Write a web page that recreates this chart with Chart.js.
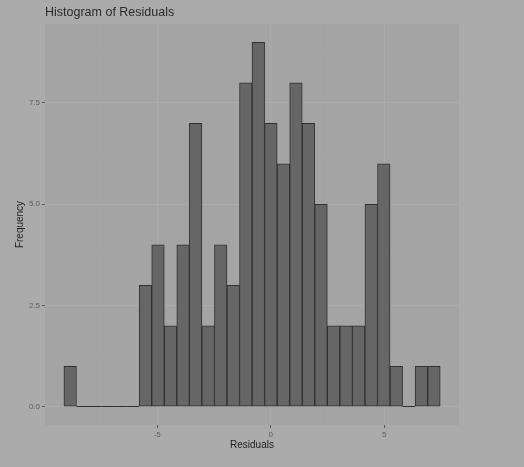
<!DOCTYPE html>
<html>
<head>
<meta charset="utf-8">
<script src="https://cdn.jsdelivr.net/npm/chart.js@4"></script>
<style>
  body { margin: 0; background: #ababab; }
  canvas { display: block; }
</style>
</head>
<body>
<canvas id="chart" width="524" height="467"></canvas>
<script>
// bin centres of the 30 histogram bins (Residuals)
const binCenters = [
  -8.831, -8.278, -7.726, -7.174, -6.621, -6.069, -5.517, -4.964, -4.412, -3.860,
  -3.307, -2.755, -2.203, -1.650, -1.098, -0.546, 0.007, 0.559, 1.111, 1.664,
  2.216, 2.768, 3.321, 3.873, 4.425, 4.978, 5.530, 6.082, 6.635, 7.187
];
// frequency per bin
const counts = [
  1, 0, 0, 0, 0, 0, 3, 4, 2, 4,
  7, 2, 4, 3, 8, 9, 7, 6, 8, 7,
  5, 2, 2, 2, 5, 6, 1, 0, 1, 1
];
const xRange = [-9.94, 8.29];
const yRange = [-0.45, 9.45];

const ctx = document.getElementById('chart').getContext('2d');

const panelPlugin = {
    id: 'panel',
    beforeDraw(chart) {
        const { ctx, chartArea } = chart;
        ctx.save();
        ctx.fillStyle = '#ababab';
        ctx.fillRect(0, 0, chart.width, chart.height);
        ctx.fillStyle = '#a4a4a4';
        ctx.fillRect(chartArea.left, chartArea.top,
            chartArea.right - chartArea.left, chartArea.bottom - chartArea.top);
        ctx.restore();
    },
    afterDatasetsDraw(chart) {
        // empty bins still get their outline on the baseline
        const { ctx } = chart;
        const meta = chart.getDatasetMeta(0);
        ctx.save();
        ctx.strokeStyle = '#303030';
        ctx.lineWidth = 1;
        meta.data.forEach((bar, i) => {
            if (counts[i] !== 0) return;
            ctx.beginPath();
            ctx.moveTo(bar.x - bar.width / 2, Math.round(bar.base) - 0.5);
            ctx.lineTo(bar.x + bar.width / 2, Math.round(bar.base) - 0.5);
            ctx.stroke();
        });
        ctx.restore();
    }
};

const isMajor = (v, step) => Math.abs(v / step - Math.round(v / step)) < 1e-9;
const major = (c, step) => !!(c.tick && isMajor(c.tick.value, step));

new Chart(ctx, {
    type: 'bar',
    data: {
        datasets: [{
            label: 'count',
            data: binCenters.map((x, i) => ({ x: x, y: counts[i] })),
            backgroundColor: '#666666',
            borderColor: '#303030',
            borderWidth: 1,
            borderSkipped: false,
            barPercentage: 1,
            categoryPercentage: 1
        }]
    },
    options: {
        responsive: false,
        animation: false,
        devicePixelRatio: 1,
        layout: { padding: { top: 4, left: 0, right: 65, bottom: 0 } },
        plugins: {
            legend: { display: false },
            tooltip: { enabled: false },
            title: {
                display: true,
                text: 'Histogram of Residuals',
                align: 'start',
                fullSize: false,
                color: '#2a2a2a',
                font: { family: 'Liberation Sans', size: 12.5, weight: 'normal' },
                padding: { top: 1, bottom: 4 }
            }
        },
        scales: {
            x: {
                type: 'linear',
                min: xRange[0],
                max: xRange[1],
                offset: false,
                afterFit(scale) { scale.height = 42; },
                border: { display: false },
                grid: {
                    offset: false,
                    color: c => major(c, 5) ? '#ababab' : '#a7a7a7',
                    lineWidth: c => major(c, 5) ? 1 : 0.7,
                    tickColor: c => major(c, 5) ? '#5a5a5a' : 'rgba(0,0,0,0)',
                    tickLength: 3,
                    tickWidth: 1
                },
                ticks: {
                    stepSize: 2.5,
                    includeBounds: false,
                    autoSkip: false,
                    maxRotation: 0,
                    padding: 2,
                    color: '#5e5e5e',
                    font: { family: 'Liberation Sans', size: 8 },
                    callback: v => isMajor(v, 5) ? String(v) : ''
                },
                title: {
                    display: true,
                    text: 'Residuals',
                    color: '#222',
                    font: { family: 'Liberation Sans', size: 10 },
                    padding: { top: 0, bottom: 16 }
                }
            },
            y: {
                min: yRange[0],
                max: yRange[1],
                afterFit(scale) { scale.width = 45; },
                border: { display: false },
                grid: {
                    color: c => major(c, 2.5) ? '#ababab' : '#a7a7a7',
                    lineWidth: c => major(c, 2.5) ? 1 : 0.7,
                    tickColor: c => major(c, 2.5) ? '#5a5a5a' : 'rgba(0,0,0,0)',
                    tickLength: 3,
                    tickWidth: 1
                },
                ticks: {
                    stepSize: 1.25,
                    includeBounds: false,
                    autoSkip: false,
                    padding: 2,
                    color: '#5e5e5e',
                    font: { family: 'Liberation Sans', size: 8 },
                    callback: v => isMajor(v, 2.5) ? v.toFixed(1) : ''
                },
                title: {
                    display: true,
                    text: 'Frequency',
                    color: '#222',
                    font: { family: 'Liberation Sans', size: 10 },
                    padding: { top: 14, bottom: 0 }
                }
            }
        }
    },
    plugins: [panelPlugin]
});
</script>
</body>
</html>
